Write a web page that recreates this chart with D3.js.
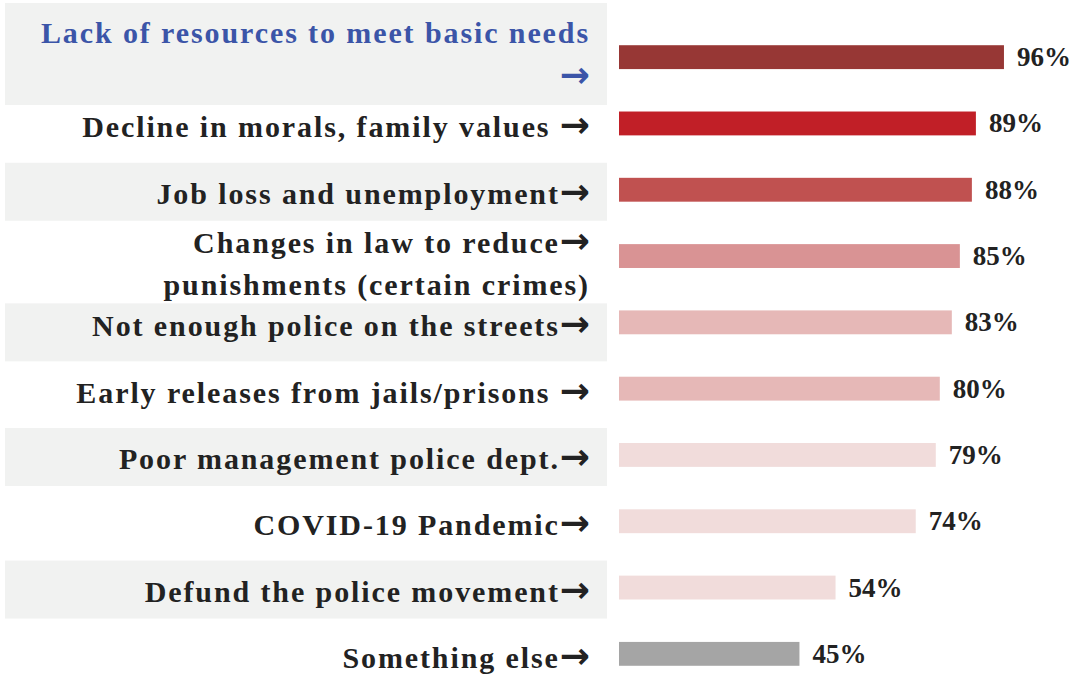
<!DOCTYPE html>
<html>
<head>
<meta charset="utf-8">
<script src="https://cdn.jsdelivr.net/npm/d3@7"></script>
<style>
  body { margin: 0; background: #fff; }
  svg text { font-family: "Liberation Serif", "DejaVu Serif", serif; font-weight: bold; }
  svg text tspan.arrow { font-family: "DejaVu Sans", sans-serif; font-weight: bold; }
</style>
</head>
<body>
<div id="chart"></div>
<script>
// chart data
var labels = [
    "Lack of resources to meet basic needs|→",
    "Decline in morals, family values →",
    "Job loss and unemployment→",
    "Changes in law to reduce→|punishments (certain crimes)",
    "Not enough police on the streets→",
    "Early releases from jails/prisons →",
    "Poor management police dept.→",
    "COVID-19 Pandemic→",
    "Defund the police movement→",
    "Something else→"
];
var values = [96, 89, 88, 85, 83, 80, 79, 74, 54, 45];
var barColors = ["#973735", "#c11f27", "#c05150", "#d99394", "#e6b8b7",
                 "#e6b8b7", "#f1dcdb", "#f1dcdb", "#f1dcdb", "#a5a5a5"];

var width = 1090, height = 675;

var svg = d3.select("#chart").append("svg")
    .attr("width", width)
    .attr("height", height);

// scales
var x = d3.scaleLinear().domain([0, 100]).range([619, 1020]);
var y = d3.scaleBand()
    .domain(d3.range(values.length))
    .range([24, 687])
    .paddingInner(0.64)
    .paddingOuter(0.32);

var rowCenter = function(i) { return y(i) + y.bandwidth() / 2; };
var wraps = function(i) { return i >= 0 && labels[i].indexOf("|") >= 0; };

// alternating gray label backgrounds
svg.selectAll(".bg")
    .data(d3.range(values.length).filter(function(i) { return i % 2 === 0; }))
  .enter().append("rect")
    .attr("class", "bg")
    .attr("x", 5)
    .attr("width", 602)
    .attr("y", function(i) {
        if (i === 0) return 3;
        return rowCenter(i) - (wraps(i - 1) ? 19 : 27);
    })
    .attr("height", function(i) { return i === 0 ? 102 : 58; })
    .style("fill", "#f1f2f1");

// bars
svg.selectAll(".bar")
    .data(values)
  .enter().append("rect")
    .attr("class", "bar")
    .attr("x", x(0))
    .attr("y", function(d, i) { return y(i); })
    .attr("width", function(d) { return x(d) - x(0); })
    .attr("height", y.bandwidth())
    .style("fill", function(d, i) { return barColors[i]; });

// value labels
svg.selectAll(".val")
    .data(values)
  .enter().append("text")
    .attr("class", "val")
    .attr("x", function(d) { return x(d) + 13; })
    .attr("y", function(d, i) { return rowCenter(i) + 9; })
    .style("font-size", "27px")
    .style("fill", "#222")
    .text(function(d) { return d + "%"; });

// category labels (right aligned, may wrap to two lines)
var lab = svg.selectAll(".lab")
    .data(labels)
  .enter().append("text")
    .attr("class", "lab")
    .style("font-size", "30px")
    .style("fill", function(d, i) { return i === 0 ? "#3b55a8" : "#222"; });

lab.each(function(d, i) {
    var lines = d.split("|");
    var t = d3.select(this);
    var c = rowCenter(i);
    var y0 = lines.length === 1 ? c + 14 : (i === 0 ? 43 : c - 3);
    var gap = i === 0 ? 44 : 42;
    lines.forEach(function(line, k) {
        var parts = line.split("→");
        var first = true;
        if (parts[0].length) {
            t.append("tspan")
                .attr("x", 0)
                .attr("y", y0 + k * gap)
                .style("letter-spacing", "1.9px")
                .text(parts[0]);
            first = false;
        }
        if (parts.length > 1) {
            var a = t.append("tspan")
                .attr("class", "arrow")
                .style("font-size", "36px")
                .text("→");
            if (first) a.attr("x", 0).attr("y", y0 + k * gap);
        }
    });
});

// right-align each line so it ends at x=590
lab.each(function() {
    var spans = d3.select(this).selectAll("tspan").nodes();
    var lineStarts = spans.filter(function(s) { return s.getAttribute("y") !== null; });
    lineStarts.forEach(function(s, k) {
        var idx = spans.indexOf(s);
        var next = lineStarts[k + 1] ? spans.indexOf(lineStarts[k + 1]) : spans.length;
        var w = 0;
        for (var j = idx; j < next; j++) w += spans[j].getComputedTextLength();
        s.setAttribute("x", 590 - w);
    });
});
</script>
</body>
</html>
